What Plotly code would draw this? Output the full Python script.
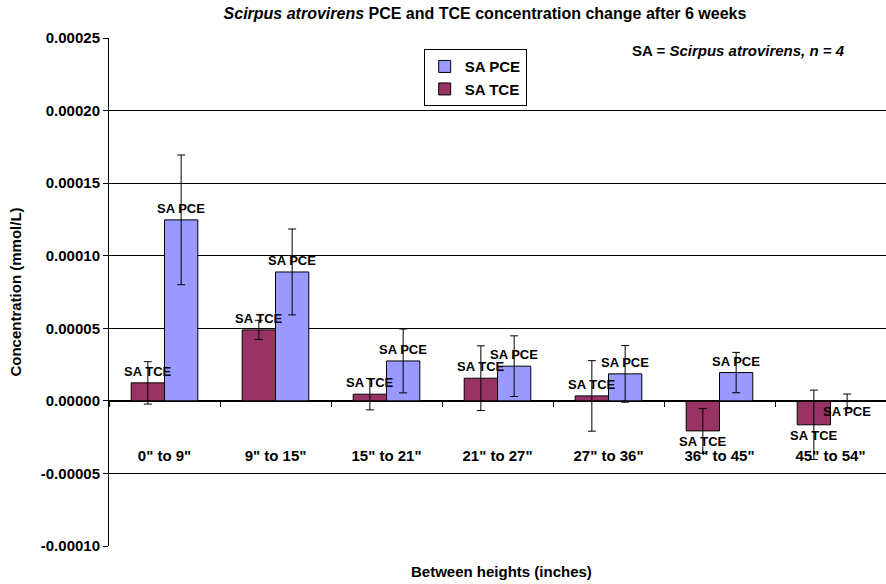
import plotly.graph_objects as go

# Height intervals sampled along the column
heights = ['0" to 9"', '9" to 15"', '15" to 21"', '21" to 27"',
           '27" to 36"', '36" to 45"', '45" to 54"']

# Concentration change after 6 weeks (mmol/L), mean and error
tce_mean = [0.0000124, 0.0000489, 0.0000046, 0.0000156, 0.0000034, -0.0000207, -0.0000165]
tce_err = [0.0000146, 0.0000066, 0.0000108, 0.0000223, 0.0000243, 0.0000154, 0.0000239]
pce_mean = [0.0001247, 0.0000888, 0.0000275, 0.0000239, 0.0000186, 0.0000195, -0.0000004]
pce_err = [0.0000447, 0.0000296, 0.0000220, 0.0000209, 0.0000195, 0.0000139, 0.0000051]

y_ticks = [-0.0001, -0.00005, 0.0, 0.00005, 0.0001, 0.00015, 0.0002, 0.00025]
y_tick_text = ["-0.00010", "-0.00005", "0.00000", "0.00005", "0.00010",
               "0.00015", "0.00020", "0.00025"]

FONT = "Liberation Sans, Arial, sans-serif"
TCE_COLOR = "#993366"
PCE_COLOR = "#9999FF"

W, H = 886, 584
M_L, M_R, M_T, M_B = 109, 0, 38, 38
PLOT_W = W - M_L - M_R
PLOT_H = H - M_T - M_B
BARGAP = 0.4

fig = go.Figure()

series = [("SA TCE", tce_mean, tce_err, TCE_COLOR),
          ("SA PCE", pce_mean, pce_err, PCE_COLOR)]

for name, mean, err, color in series:
    fig.add_trace(go.Bar(
        name=name,
        x=heights,
        y=mean,
        marker=dict(color=color, line=dict(color="black", width=1)),
        error_y=dict(type="data", array=err, color="black", thickness=1, width=4),
    ))

# Series name above (or below, for negative values) each bar, drawn on top
cat_px = PLOT_W / len(heights)
bar_px = cat_px * (1 - BARGAP) / len(series)
for i, (name, mean, _, _) in enumerate(series):
    shift = (i - (len(series) - 1) / 2) * bar_px
    for cat, val in zip(heights, mean):
        fig.add_annotation(
            x=cat, y=val, xref="x", yref="y",
            text=f"<b>{name}</b>", showarrow=False,
            xshift=shift,
            yanchor="bottom" if val >= 0 else "top",
            yshift=2 if val >= 0 else -1,
            font=dict(size=13, family=FONT, color="black"),
        )

y_min, y_max = -0.0001, 0.00025
zero_frac = (0 - y_min) / (y_max - y_min)

fig.update_layout(
    width=W, height=H,
    margin=dict(l=M_L, r=M_R, t=M_T, b=M_B),
    paper_bgcolor="white", plot_bgcolor="white",
    font=dict(family=FONT, color="black"),
    barmode="group", bargap=BARGAP, bargroupgap=0,
    title=dict(
        text="<b><i>Scirpus atrovirens</i> PCE and TCE concentration change after 6 weeks</b>",
        x=485 / W, xanchor="center", y=1 - 13 / H, yanchor="middle",
        font=dict(size=16, family=FONT, color="black"),
    ),
    legend=dict(
        x=0.405, y=0.978, xanchor="left", yanchor="top",
        bgcolor="white", bordercolor="black", borderwidth=1,
        traceorder="reversed", itemwidth=30,
        font=dict(size=15, family=FONT, color="black", weight="bold"),
    ),
    xaxis=dict(
        anchor="free", position=zero_frac,
        showline=True, linecolor="black", linewidth=1,
        ticks="outside", ticklen=5, tickcolor="black", tickson="boundaries",
        ticklabelstandoff=41,
        tickfont=dict(size=15, family=FONT, color="black", weight="bold"),
        showgrid=False,
    ),
    yaxis=dict(
        range=[y_min, y_max], domain=[0, 1],
        tickvals=y_ticks, ticktext=y_tick_text,
        showline=True, linecolor="black", linewidth=1,
        ticks="outside", ticklen=5, tickcolor="black",
        showgrid=True, gridcolor="black", gridwidth=1,
        zeroline=False,
        tickfont=dict(size=15, family=FONT, color="black", weight="bold"),
        title=dict(text="<b>Concentration (mmol/L)</b>",
                   font=dict(size=15, family=FONT, color="black")),
    ),
)

# Category axis title, set below the plot area
fig.add_annotation(
    text="<b>Between heights (inches)</b>",
    xref="paper", yref="paper", x=(501.5 - M_L) / PLOT_W, y=-(571 - (H - M_B)) / PLOT_H,
    xanchor="center", yanchor="middle", showarrow=False,
    font=dict(size=15, family=FONT, color="black"),
)

fig.add_annotation(
    text="<b>SA = <i>Scirpus atrovirens, n = 4</i></b>",
    xref="paper", yref="paper", x=(847 - M_L) / PLOT_W, y=1 - (51 - M_T) / PLOT_H,
    xanchor="right", yanchor="middle", showarrow=False,
    font=dict(size=15, family=FONT, color="black"),
)

fig.write_html("out.html")
